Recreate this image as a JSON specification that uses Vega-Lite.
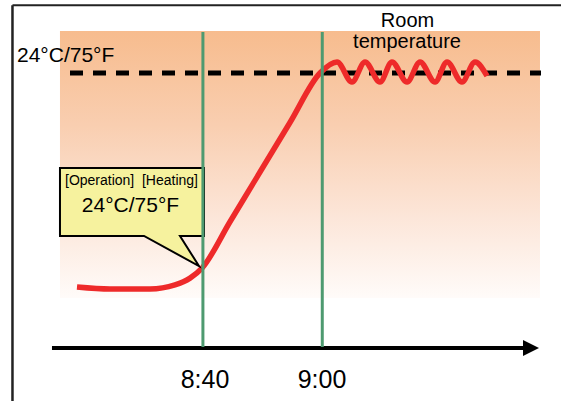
{
  "$schema": "https://vega.github.io/schema/vega-lite/v6.json",
  "width": 561,
  "height": 401,
  "padding": 0,
  "autosize": {"type": "none"},
  "background": "white",
  "config": {"view": {"stroke": null}, "text": {"font": "Liberation Sans", "baseline": "alphabetic", "color": "black"}},
  "datasets": {
    "bg": [{"t": 16.05, "t2": 96.48, "temp": 26.05, "temp2": 12.74}],
    "borderV": [{"t": 8.09, "temp": 27.34, "temp2": 7.6}],
    "borderH": [{"t": 8.09, "t2": 100, "temp": 27.34}],
    "axis": [{"t": 14.71, "t2": 94.0, "temp": 10.24}],
    "arrow": [{"t": 94.97, "temp": 10.24}],
    "setpoint": [{"t": 17.73, "t2": 96.65, "temp": 23.96}],
    "events": [{"t": 40, "temp": 26.0, "temp2": 10.29, "label": "8:40"}, {"t": 60, "temp": 26.0, "temp2": 10.29, "label": "9:00"}],
    "room": [
      {"t": 18.90, "temp": 13.29},
      {"t": 24.43, "temp": 13.19},
      {"t": 31.13, "temp": 13.19},
      {"t": 35.32, "temp": 13.39},
      {"t": 37.84, "temp": 13.73},
      {"t": 39.85, "temp": 14.23},
      {"t": 44.54, "temp": 16.54},
      {"t": 49.57, "temp": 19.02},
      {"t": 54.59, "temp": 21.49},
      {"t": 59.62, "temp": 23.96},
      {"t": 62.47, "temp": 24.51},
      {"t": 64.98, "temp": 23.51},
      {"t": 67.16, "temp": 24.51},
      {"t": 69.67, "temp": 23.51},
      {"t": 71.68, "temp": 24.51},
      {"t": 74.20, "temp": 23.51},
      {"t": 76.38, "temp": 24.51},
      {"t": 78.89, "temp": 23.51},
      {"t": 80.90, "temp": 24.51},
      {"t": 83.41, "temp": 23.51},
      {"t": 85.59, "temp": 24.51},
      {"t": 87.60, "temp": 23.81}
    ],
    "boxFill": [{"t": 16.05, "t2": 40.18, "temp": 19.22, "temp2": 15.83}],
    "tailFill": [{"t": 30.13, "temp": 15.83, "temp2": 15.83}, {"t": 36.16, "temp": 15.83, "temp2": 14.85}, {"t": 39.34, "temp": 14.33, "temp2": 14.33}],
    "outline": [
      {"o": 1, "t": 16.05, "temp": 15.83},
      {"o": 2, "t": 16.05, "temp": 19.22},
      {"o": 3, "t": 40.18, "temp": 19.22},
      {"o": 4, "t": 40.18, "temp": 15.83},
      {"o": 5, "t": 36.16, "temp": 15.83},
      {"o": 6, "t": 39.34, "temp": 14.33},
      {"o": 7, "t": 30.13, "temp": 15.83},
      {"o": 8, "t": 16.05, "temp": 15.83},
      {"o": 9, "t": 16.05, "temp": 17.62}
    ],
    "topLabel": [{"t": 8.85, "temp": 24.51, "label": "24°C/75°F"}],
    "roomLabel": [{"t": 74.28, "temp": 26.27, "label": "Room"}, {"t": 74.2, "temp": 25.21, "label": "temperature"}],
    "tickLabels": [{"t": 40.35, "temp": 8.25, "label": "8:40"}, {"t": 59.95, "temp": 8.25, "label": "9:00"}],
    "opLabel": [{"t": 16.89, "temp": 18.37, "label": "[Operation]"}],
    "heatLabel": [{"t": 39.18, "temp": 18.37, "label": "[Heating]"}],
    "boxLabel": [{"t": 27.87, "temp": 17.03, "label": "24°C/75°F"}]
  },
  "encoding": {
    "x": {"field": "t", "type": "quantitative", "scale": {"domain": [6, 100], "nice": false, "zero": false}, "axis": null},
    "y": {"field": "temp", "type": "quantitative", "scale": {"domain": [7.6, 27.6], "nice": false, "zero": false}, "axis": null}
  },
  "layer": [
    {
      "data": {"name": "bg"},
      "mark": {"type": "rect", "fill": {"gradient": "linear", "x1": 0, "y1": 0, "x2": 0, "y2": 1, "stops": [{"offset": 0, "color": "#f7bc8e"}, {"offset": 0.35, "color": "#f9ceb0"}, {"offset": 0.7, "color": "#fce6d9"}, {"offset": 1, "color": "#fffbf9"}]}},
      "encoding": {"x2": {"field": "t2"}, "y2": {"field": "temp2"}}
    },
    {
      "data": {"name": "borderV"},
      "mark": {"type": "rule", "color": "#222222", "strokeWidth": 2.5},
      "encoding": {"y2": {"field": "temp2"}}
    },
    {
      "data": {"name": "borderH"},
      "mark": {"type": "rule", "color": "#222222", "strokeWidth": 2},
      "encoding": {"x2": {"field": "t2"}}
    },
    {
      "data": {"name": "axis"},
      "mark": {"type": "rule", "color": "black", "strokeWidth": 4},
      "encoding": {"x2": {"field": "t2"}}
    },
    {
      "data": {"name": "arrow"},
      "mark": {"type": "point", "shape": "M-1,-1L1,0L-1,1Z", "filled": true, "color": "black", "opacity": 1, "size": 256, "strokeWidth": 0}
    },
    {
      "data": {"name": "setpoint"},
      "mark": {"type": "rule", "color": "black", "strokeWidth": 5, "strokeDash": [13, 10]},
      "encoding": {"x2": {"field": "t2"}}
    },
    {
      "data": {"name": "room"},
      "mark": {"type": "line", "color": "#ee2a2a", "strokeWidth": 5.5, "interpolate": "monotone"}
    },
    {
      "data": {"name": "boxFill"},
      "mark": {"type": "rect", "fill": "#f6f29e"},
      "encoding": {"x2": {"field": "t2"}, "y2": {"field": "temp2"}}
    },
    {
      "data": {"name": "tailFill"},
      "mark": {"type": "area", "fill": "#f6f29e", "opacity": 1},
      "encoding": {"y2": {"field": "temp2"}}
    },
    {
      "data": {"name": "outline"},
      "mark": {"type": "line", "color": "black", "strokeWidth": 2, "strokeJoin": "miter"},
      "encoding": {"order": {"field": "o", "type": "quantitative"}}
    },
    {
      "data": {"name": "opLabel"},
      "mark": {"type": "text", "fontSize": 14, "align": "left"},
      "encoding": {"text": {"field": "label"}}
    },
    {
      "data": {"name": "heatLabel"},
      "mark": {"type": "text", "fontSize": 14, "align": "right"},
      "encoding": {"text": {"field": "label"}}
    },
    {
      "data": {"name": "boxLabel"},
      "mark": {"type": "text", "fontSize": 21, "align": "center"},
      "encoding": {"text": {"field": "label"}}
    },
    {
      "data": {"name": "events"},
      "mark": {"type": "rule", "color": "#4e9a70", "strokeWidth": 3},
      "encoding": {"y2": {"field": "temp2"}}
    },
    {
      "data": {"name": "topLabel"},
      "mark": {"type": "text", "fontSize": 21, "align": "left"},
      "encoding": {"text": {"field": "label"}}
    },
    {
      "data": {"name": "roomLabel"},
      "mark": {"type": "text", "fontSize": 20, "align": "center"},
      "encoding": {"text": {"field": "label"}}
    },
    {
      "data": {"name": "tickLabels"},
      "mark": {"type": "text", "fontSize": 25, "align": "center"},
      "encoding": {"text": {"field": "label"}}
    }
  ]
}
